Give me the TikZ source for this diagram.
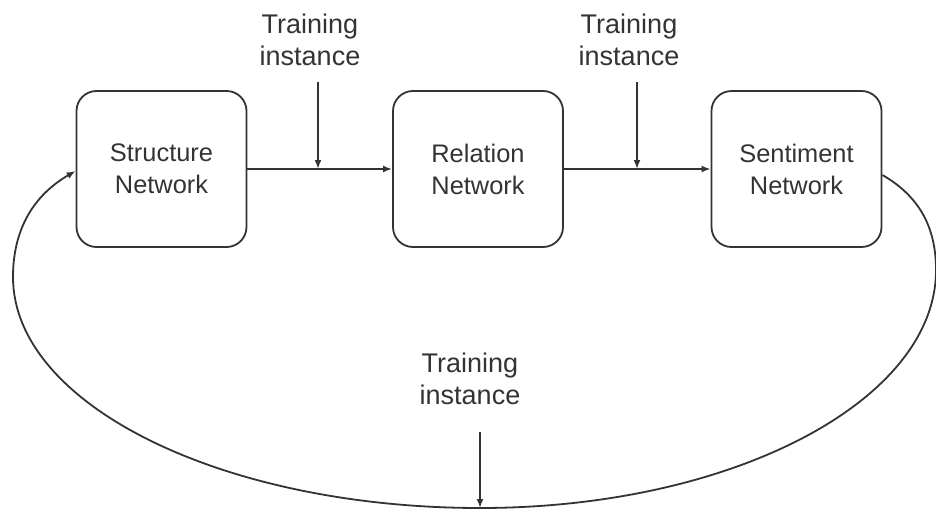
\documentclass[tikz,border=0pt]{standalone}
\usepackage{fontspec}
\setmainfont{Liberation Sans}
\usetikzlibrary{arrows.meta}
\definecolor{ink}{gray}{0.2}
\begin{document}
\begin{tikzpicture}[x=0.5pt,y=0.5pt,
  netbox/.style={draw=ink, line width=0.9pt, rounded corners=10pt,
    minimum width=85pt, minimum height=78pt, align=center, text=ink,
    font=\fontsize{12.7}{16}\selectfont, inner sep=0pt},
  lbl/.style={align=center, text=ink, font=\fontsize{13.5}{16}\selectfont, inner sep=0pt},
  flow/.style={draw=ink, line width=0.9pt, -{Latex[length=4.5pt,width=3.5pt]}}]
\useasboundingbox (0,0) rectangle (936,516);
% the three networks
\node[netbox] (sn) at (161.5,347) {Structure\\Network};
\node[netbox] (rn) at (478,347) {Relation\\Network};
\node[netbox] (en) at (796.5,347) {Sentiment\\Network};
% training instance labels
\node[lbl] (t1) at (310,476) {Training\\instance};
\node[lbl] (t2) at (629,476) {Training\\instance};
\node[lbl] (t3) at (470,137) {Training\\instance};
% arrow starts and junctions
\coordinate (a1) at (318,434);
\coordinate (j1) at (318,347);
\coordinate (a2) at (637,434);
\coordinate (j2) at (637,347);
\coordinate (a3) at (480,84);
\coordinate (j3) at (480,8);
\coordinate (pr) at (936,246);
\coordinate (pl) at (13,239);
% forward chain
\draw[flow] (sn.east) -- (rn.west);
\draw[flow] (rn.east) -- (en.west);
\draw[flow] (a1) -- (j1);
\draw[flow] (a2) -- (j2);
% feedback loop: elliptical lower half, eased into the box sides
\draw[flow] ([yshift=-3pt]en.east) to[out=-30,in=90] (pr)
  .. controls (936,115) and (732,8) .. (j3)
  .. controls (222,8) and (13,111.5) .. (pl)
  to[out=90,in=210] ([yshift=-1pt]sn.west);
\draw[flow] (a3) -- (j3);
\end{tikzpicture}
\end{document}
